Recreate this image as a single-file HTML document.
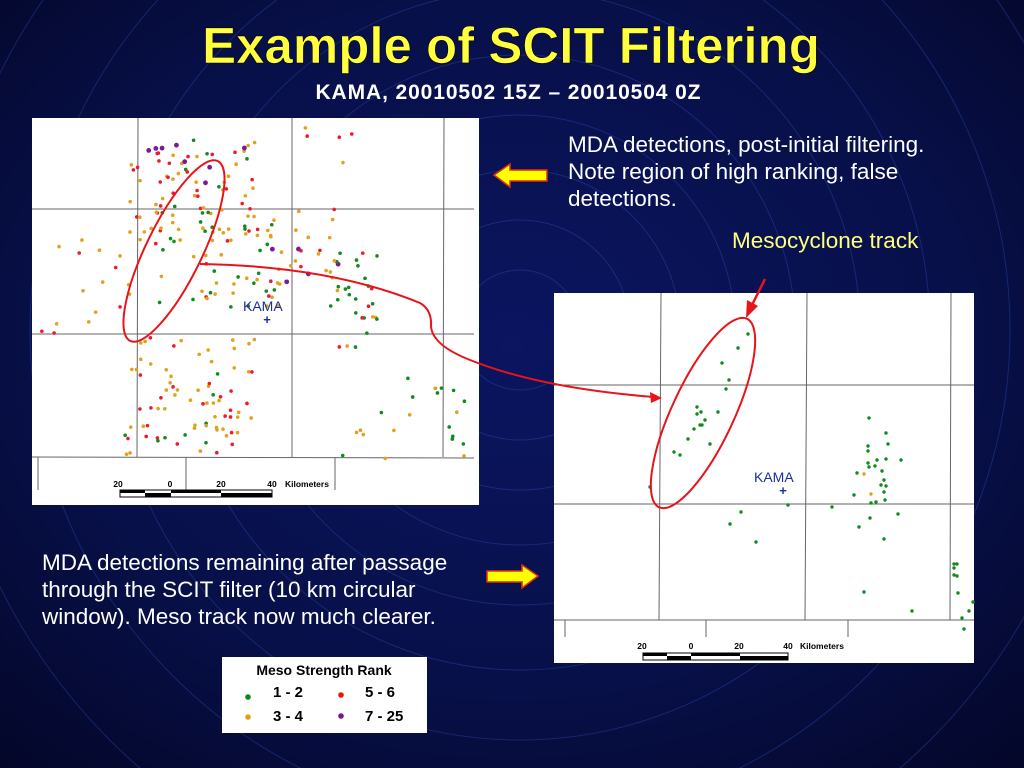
<!DOCTYPE html>
<html><head><meta charset="utf-8"><style>
html,body{margin:0;padding:0;width:1024px;height:768px;overflow:hidden;background:#06093a;font-family:"Liberation Sans",sans-serif}
svg{display:block}
</style></head><body>
<svg id="s" width="1024" height="768" viewBox="0 0 1024 768" xmlns="http://www.w3.org/2000/svg" style="position:absolute;left:0;top:0">
<defs><radialGradient id="bg" cx="0.5" cy="0.45" r="0.75"><stop offset="0" stop-color="#0b1560"/><stop offset="0.6" stop-color="#071048"/><stop offset="1" stop-color="#040628"/></radialGradient></defs>
<rect width="1024" height="768" fill="url(#bg)"/>
<g fill="none" stroke="#2a47a8" stroke-opacity="0.45" stroke-width="1">
<circle cx="520" cy="330" r="60"/><circle cx="520" cy="330" r="110"/><circle cx="520" cy="330" r="160"/><circle cx="520" cy="330" r="215"/><circle cx="520" cy="330" r="275"/><circle cx="520" cy="330" r="340"/><circle cx="520" cy="330" r="410"/><circle cx="520" cy="330" r="490"/><circle cx="520" cy="330" r="580"/>
</g>
<text x="511" y="63" text-anchor="middle" font-size="51" font-weight="bold" fill="#ffff40" stroke="#000" stroke-width="0.6">Example of SCIT Filtering</text>
<text x="508" y="99" text-anchor="middle" font-size="21" font-weight="bold" fill="#fff" textLength="385">KAMA, 20010502 15Z – 20010504 0Z</text>
<g font-size="22.5" fill="#fff">
<text x="568" y="152">MDA detections, post-initial filtering.</text>
<text x="568" y="179">Note region of high ranking, false</text>
<text x="568" y="206">detections.</text>
<text x="42" y="570">MDA detections remaining after passage</text>
<text x="42" y="597">through the SCIT filter (10 km circular</text>
<text x="42" y="624">window).  Meso track now much clearer.</text>
</g>
<text x="732" y="248" font-size="22.5" fill="#ffff80">Mesocyclone track</text>
<!-- map 1 -->
<rect x="32" y="118" width="447" height="387" fill="#fff"/>
<g stroke="#666" stroke-width="1" fill="none">
<path d="M138 118 L137 457 M292 118 L292 457 M444 118 L443 457 M32 209 L474 209 M32 334 L474 334 M32 457 L474 458 M38 457 L38 490 M186 457 L186 490 M335 457 L335 490"/>
</g>
<g id="d1"></g>
<text x="243" y="311" font-size="14" fill="#1a2f9a">KAMA</text>
<text x="267" y="324" font-size="13" fill="#1a2f9a" font-weight="bold" text-anchor="middle">+</text>
<g font-size="8.5" font-weight="bold" fill="#000"><text x="118" y="487" text-anchor="middle">20</text><text x="170" y="487" text-anchor="middle">0</text><text x="221" y="487" text-anchor="middle">20</text><text x="272" y="487" text-anchor="middle">40</text><text x="285" y="487">Kilometers</text></g>
<rect x="120" y="490" width="152" height="7" fill="#fff" stroke="#000"/>
<rect x="120" y="490" width="25" height="3" fill="#000"/><rect x="145" y="493" width="26" height="4" fill="#000"/><rect x="171" y="490" width="50" height="3" fill="#000"/><rect x="221" y="493" width="51" height="4" fill="#000"/>
<ellipse cx="174" cy="251" rx="100" ry="28" transform="rotate(-64 174 251)" fill="none" stroke="#e8141a" stroke-width="2"/>
<!-- map 2 -->
<rect x="554" y="293" width="420" height="370" fill="#fff"/>
<g stroke="#666" stroke-width="1" fill="none">
<path d="M661 293 L659 620 M807 293 L805 620 M951 293 L950 620 M554 385 L974 385 M554 504 L974 504 M554 620 L974 620 M565 620 L565 637 M706 620 L706 637 M848 620 L848 637"/>
</g>
<g id="d2"></g>
<text x="754" y="482" font-size="14" fill="#1a2f9a">KAMA</text>
<text x="783" y="495" font-size="13" fill="#1a2f9a" font-weight="bold" text-anchor="middle">+</text>
<g font-size="8.5" font-weight="bold" fill="#000"><text x="642" y="649" text-anchor="middle">20</text><text x="691" y="649" text-anchor="middle">0</text><text x="739" y="649" text-anchor="middle">20</text><text x="788" y="649" text-anchor="middle">40</text><text x="800" y="649">Kilometers</text></g>
<rect x="643" y="653" width="145" height="7" fill="#fff" stroke="#000"/>
<rect x="643" y="653" width="24" height="3" fill="#000"/><rect x="667" y="656" width="24" height="4" fill="#000"/><rect x="691" y="653" width="49" height="3" fill="#000"/><rect x="740" y="656" width="48" height="4" fill="#000"/>
<ellipse cx="703" cy="413" rx="104" ry="31" transform="rotate(-65 703 413)" fill="none" stroke="#e8141a" stroke-width="2"/>
<!-- track curve -->
<path d="M200 264 Q330 266 420 303 Q432 310 431 326 Q432 345 470 360 Q540 388 654 397" fill="none" stroke="#e8141a" stroke-width="2"/>
<polygon points="662,398 650,392 651,403" fill="#e8141a"/>
<line x1="765" y1="279" x2="752" y2="305" stroke="#e8141a" stroke-width="2.5"/>
<polygon points="746,318 747,300 758,306" fill="#e8141a"/>
<!-- yellow arrows -->
<polygon points="494,175 510,164 510,170 547,170 547,181 510,181 510,187" fill="#ffff00" stroke="#e03010" stroke-width="1.5"/>
<polygon points="538,576 522,565 522,571 487,571 487,582 522,582 522,588" fill="#ffff00" stroke="#e03010" stroke-width="1.5"/>
<!-- legend -->
<rect x="222" y="657" width="205" height="76" fill="#fff"/>
<text x="324" y="675" text-anchor="middle" font-size="14" font-weight="bold" fill="#000">Meso Strength Rank</text>
<g font-size="15" font-weight="bold" fill="#000"><text x="273" y="697">1 - 2</text><text x="365" y="697">5 - 6</text><text x="273" y="721">3 - 4</text><text x="365" y="721">7 - 25</text></g>
<circle cx="248" cy="697" r="2.8" fill="#0a8a1a"/><circle cx="341" cy="695" r="2.8" fill="#f01010"/><circle cx="248" cy="717" r="2.8" fill="#e0a010"/><circle cx="341" cy="716" r="2.8" fill="#801090"/>
</svg>
<script>
var G="#118a1e",O="#e2a11a",R="#ee1830",P="#7a1a98",NS="http://www.w3.org/2000/svg";
function dot(g,x,y,c,r){var e=document.createElementNS(NS,"circle");e.setAttribute("cx",x);e.setAttribute("cy",y);e.setAttribute("r",r||1.8);e.setAttribute("fill",c);g.appendChild(e);}
var seed=7;function rnd(){seed=(seed*16807)%2147483647;return seed/2147483647;}
var d1=document.getElementById("d1");
function cl(cx,cy,sx,sy,n,cols){for(var i=0;i<n;i++){var x=cx+(rnd()*2-1)*sx,y=cy+(rnd()*2-1)*sy;var c=cols[Math.floor(rnd()*cols.length)];dot(d1,x,y,c,c==P?2.4:1.8);}}
cl(195,190,65,50,70,[O,O,O,R,R,O,G]);
cl(195,165,50,20,14,[P,R]);
cl(215,265,70,45,55,[O,O,O,O,G,R]);
cl(190,395,65,60,80,[O,O,O,O,R,R,G]);
cl(85,290,45,50,16,[O,O,R]);
cl(330,150,30,25,5,[R,O]);
cl(305,245,35,40,20,[O,O,O,R,P]);
cl(355,300,25,50,32,[G,G,G,O,R]);
cl(450,425,15,40,12,[G,G,O]);
cl(380,420,40,45,10,[O,G]);
var g2=document.getElementById("d2");
var p=[[748,334],[738,348],[722,363],[729,380],[726,389],[697,407],[697,414],[701,412],[705,420],[702,425],[700,425],[694,429],[718,412],[688,439],[710,444],[674,452],[680,455],[650,487],[869,418],[886,433],[888,444],[868,446],[868,451],[877,460],[886,459],[901,460],[868,463],[869,467],[875,466],[882,471],[857,473],[884,480],[881,485],[886,486],[884,492],[854,495],[871,503],[876,502],[885,500],[898,514],[870,518],[859,527],[884,539],[788,505],[832,507],[741,512],[730,524],[756,542],[864,592],[912,611],[954,564],[957,564],[954,568],[954,575],[957,576],[958,593],[973,602],[969,611],[962,618],[964,629]];
p.forEach(function(q){dot(g2,q[0],q[1],G,1.7);});
dot(g2,864,474,O,1.7);dot(g2,871,494,O,1.7);
</script>
</body></html>
